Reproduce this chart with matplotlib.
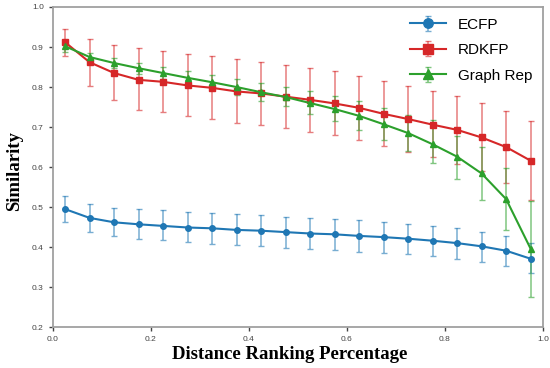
import numpy as np
import matplotlib
matplotlib.use('Agg')
import matplotlib.pyplot as plt

# Data (mean, lower end, upper end of error bar)
x = np.arange(0.025, 1.0, 0.05)

ecfp = [0.495, 0.473, 0.462, 0.457, 0.453, 0.449, 0.447, 0.443, 0.441, 0.4375,
        0.434, 0.432, 0.428, 0.425, 0.421, 0.416, 0.410, 0.402, 0.391, 0.371]
ecfp_lo = [0.463, 0.438, 0.427, 0.420, 0.417, 0.412, 0.409, 0.406, 0.403, 0.399,
           0.396, 0.392, 0.389, 0.386, 0.383, 0.377, 0.371, 0.363, 0.353, 0.335]
ecfp_hi = [0.528, 0.508, 0.498, 0.495, 0.492, 0.488, 0.485, 0.482, 0.480, 0.475,
           0.472, 0.470, 0.467, 0.462, 0.458, 0.453, 0.447, 0.439, 0.427, 0.410]

rdk = [0.912, 0.862, 0.835, 0.818, 0.813, 0.804, 0.798, 0.789, 0.784, 0.776,
       0.768, 0.759, 0.748, 0.733, 0.720, 0.706, 0.693, 0.674, 0.650, 0.616]
rdk_lo = [0.878, 0.803, 0.767, 0.742, 0.737, 0.727, 0.720, 0.709, 0.704, 0.698,
          0.688, 0.679, 0.667, 0.652, 0.638, 0.624, 0.608, 0.589, 0.560, 0.518]
rdk_hi = [0.945, 0.920, 0.905, 0.897, 0.890, 0.883, 0.878, 0.870, 0.863, 0.856,
          0.847, 0.840, 0.827, 0.816, 0.802, 0.790, 0.777, 0.760, 0.740, 0.714]

graph = [0.902, 0.875, 0.860, 0.847, 0.835, 0.823, 0.812, 0.800, 0.787, 0.775,
         0.760, 0.745, 0.728, 0.707, 0.685, 0.657, 0.626, 0.584, 0.520, 0.396]
graph_lo = [0.888, 0.864, 0.848, 0.833, 0.821, 0.808, 0.795, 0.781, 0.766, 0.752,
            0.733, 0.714, 0.693, 0.668, 0.639, 0.610, 0.571, 0.518, 0.443, 0.276]
graph_hi = [0.915, 0.885, 0.872, 0.860, 0.850, 0.840, 0.830, 0.820, 0.810, 0.800,
            0.790, 0.777, 0.764, 0.748, 0.731, 0.717, 0.677, 0.650, 0.597, 0.516]

series = [
    ("ECFP", ecfp, ecfp_lo, ecfp_hi, "#1f77b4", "o"),
    ("RDKFP", rdk, rdk_lo, rdk_hi, "#d62728", "s"),
    ("Graph Rep", graph, graph_lo, graph_hi, "#2ca02c", "^"),
]

fig = plt.figure(figsize=(5.5, 3.68), dpi=100)
ax = fig.add_axes([0.096, 0.111, 0.891, 0.870])

for name, m, lo, hi, c, mk in series:
    m = np.array(m)
    yerr = [m - np.array(lo), np.array(hi) - m]
    eb = ax.errorbar(x, m, yerr=yerr, color=c, marker=mk, markersize=4,
                     linewidth=1.5, elinewidth=1.1, capsize=2.5, capthick=1.0,
                     label=name)
    for part in eb[1]:
        part.set_alpha(0.6)
    for part in eb[2]:
        part.set_alpha(0.6)

ax.set_xlim(0, 1.0)
ax.set_ylim(0.2, 1.0)
ax.set_xticks([0.0, 0.2, 0.4, 0.6, 0.8, 1.0])
ax.set_yticks([0.2, 0.3, 0.4, 0.5, 0.6, 0.7, 0.8, 0.9, 1.0])
ax.tick_params(labelsize=6, colors="#444444", length=3, width=1.0)
for lab in ax.get_xticklabels() + ax.get_yticklabels():
    lab.set_family("Liberation Sans")
for s in ax.spines.values():
    s.set_color("#a0a0a0")
    s.set_linewidth(1.3)

# axis titles placed directly on the figure
fig.text(0.527, 0.0245, "Distance Ranking Percentage", fontsize=13.5,
         fontweight="bold", family="Liberation Serif", ha="center", va="baseline")
fig.text(0.026, 0.535, "Similarity", fontsize=13.5, fontweight="bold",
         family="Liberation Serif", rotation=90, ha="center", va="center")

leg = ax.legend(loc="upper right", frameon=False, handlelength=2.3,
                borderaxespad=0.3, labelspacing=0.75, markerscale=1.7,
                prop={"family": "Liberation Sans", "size": 11})
for ln in leg.get_lines():
    ln.set_linewidth(2.8)

fig.savefig("out.png", dpi=100)
